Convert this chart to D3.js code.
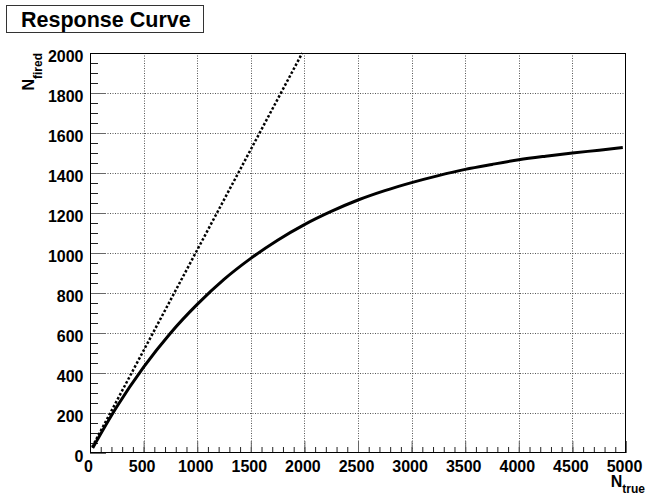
<!DOCTYPE html>
<html>
<head>
<meta charset="utf-8">
<script src="https://cdn.jsdelivr.net/npm/d3@7/dist/d3.min.js"></script>
<style>
  html, body { margin: 0; padding: 0; background: #fff; }
  svg { display: block; }
  text { font-family: "Liberation Sans", Arial, Helvetica, sans-serif; font-weight: bold; fill: #000; }
</style>
</head>
<body>
<svg id="chart" width="646" height="496"></svg>
<script>
// Response curve: fired count versus true count
const trueCounts  = [25, 250, 500, 750, 1000, 1250, 1500, 1750, 2000, 2250, 2500, 2750, 3000, 3250, 3500, 3750, 4000, 4250, 4500, 4750, 4970];
const firedCounts = [25, 231, 429, 599, 743, 868, 973, 1064, 1142, 1208, 1265, 1312, 1352, 1387, 1418, 1443, 1466, 1484, 1500, 1514, 1527];

// Ideal (linear) response reference line
const idealTrue  = [20, 1980];
const idealFired = [30, 2000];

const xTicks = [0, 500, 1000, 1500, 2000, 2500, 3000, 3500, 4000, 4500, 5000];
const yTicks = [0, 200, 400, 600, 800, 1000, 1200, 1400, 1600, 1800, 2000];

const titleText = "Response Curve";

const margin = { left: 90, right: 20, top: 53, bottom: 43 };
const W = 646, H = 496;
const svg = d3.select("#chart");

const x = d3.scaleLinear().domain([0, 5000]).range([margin.left, W - margin.right]);
const y = d3.scaleLinear().domain([0, 2000]).range([H - margin.bottom, margin.top]);

const x0 = x.range()[0], x1 = x.range()[1];
const y0 = y.range()[0], y1 = y.range()[1];

// Grid (dotted) at major ticks
const grid = svg.append("g");
grid.selectAll("line.gx").data(xTicks.slice(1, -1)).join("line")
  .attr("x1", d => Math.round(x(d)) + 0.5).attr("x2", d => Math.round(x(d)) + 0.5)
  .attr("y1", y1).attr("y2", y0)
  .attr("stroke", "#555").attr("stroke-width", 1).attr("stroke-dasharray", "1,1.5");
grid.selectAll("line.gy").data(yTicks.slice(1, -1)).join("line")
  .attr("y1", d => Math.round(y(d)) + 0.5).attr("y2", d => Math.round(y(d)) + 0.5)
  .attr("x1", x0).attr("x2", x1)
  .attr("stroke", "#555").attr("stroke-width", 1).attr("stroke-dasharray", "1,1.5");

// Minor and major ticks through d3 axes
const xMinor = d3.range(0, 5001, 100);
const yMinor = d3.range(0, 2001, 50);

const gxMinor = svg.append("g").attr("transform", `translate(0,${y0})`)
  .call(d3.axisTop(x).tickValues(xMinor).tickSize(6).tickFormat(""));
const gxMajor = svg.append("g").attr("transform", `translate(0,${y0})`)
  .call(d3.axisTop(x).tickValues(xTicks).tickSize(12).tickFormat(""));
const gyMinor = svg.append("g").attr("transform", `translate(${x0},0)`)
  .call(d3.axisRight(y).tickValues(yMinor).tickSize(8).tickFormat(""));
const gyMajor = svg.append("g").attr("transform", `translate(${x0},0)`)
  .call(d3.axisRight(y).tickValues(yTicks).tickSize(16).tickFormat(""));
[gxMinor, gxMajor, gyMinor, gyMajor].forEach(g => {
  g.select(".domain").remove();
  g.selectAll("line").attr("stroke", "#222").attr("stroke-width", 1);
});
gxMajor.selectAll("line").attr("stroke", "#666");
gyMajor.selectAll("line").attr("stroke", "#666");

// Tick labels
svg.append("g").selectAll("text").data(xTicks).join("text")
  .attr("x", d => x(d) - 1.5).attr("y", y0 + 18.5)
  .attr("text-anchor", "middle").attr("font-size", 16)
  .text(d => d);
svg.append("g").selectAll("text").data(yTicks).join("text")
  .attr("x", x0 - 6.5).attr("y", d => y(d) + 9)
  .attr("text-anchor", "end").attr("font-size", 16)
  .text(d => d);

// Frame
svg.append("rect")
  .attr("x", x0 + 0.5).attr("y", y1 + 0.5)
  .attr("width", x1 - x0 - 1).attr("height", y0 - y1 - 1)
  .attr("fill", "none").attr("stroke", "#000").attr("stroke-width", 1);

// Data lines
const line = d3.line().x(d => x(d[0])).y(d => y(d[1]));

svg.append("path")
  .datum(idealTrue.map((v, i) => [v, idealFired[i]]))
  .attr("d", line)
  .attr("fill", "none").attr("stroke", "#000")
  .attr("stroke-width", 2.5).attr("stroke-dasharray", "2.5,2");

svg.append("path")
  .datum(trueCounts.map((v, i) => [v, firedCounts[i]]))
  .attr("d", line.curve(d3.curveMonotoneX))
  .attr("fill", "none").attr("stroke", "#000")
  .attr("stroke-width", 3).attr("stroke-linejoin", "round");

// Axis titles with subscripts
const xt = svg.append("text").attr("x", 645).attr("y", 487)
  .attr("text-anchor", "end").attr("font-size", 16);
xt.append("tspan").text("N");
xt.append("tspan").attr("font-size", 12).attr("dy", 6).text("true");

const yt = svg.append("text")
  .attr("transform", `translate(34,53) rotate(-90)`)
  .attr("text-anchor", "end").attr("font-size", 16);
yt.append("tspan").text("N");
yt.append("tspan").attr("font-size", 12).attr("dy", 8).text("fired");

// Title box
svg.append("rect").attr("x", 6.5).attr("y", 5.5).attr("width", 197).attr("height", 27)
  .attr("fill", "#fff").attr("stroke", "#333").attr("stroke-width", 1);
svg.append("text").attr("x", 21).attr("y", 27)
  .attr("font-size", 21.5).text(titleText);
</script>
</body>
</html>
